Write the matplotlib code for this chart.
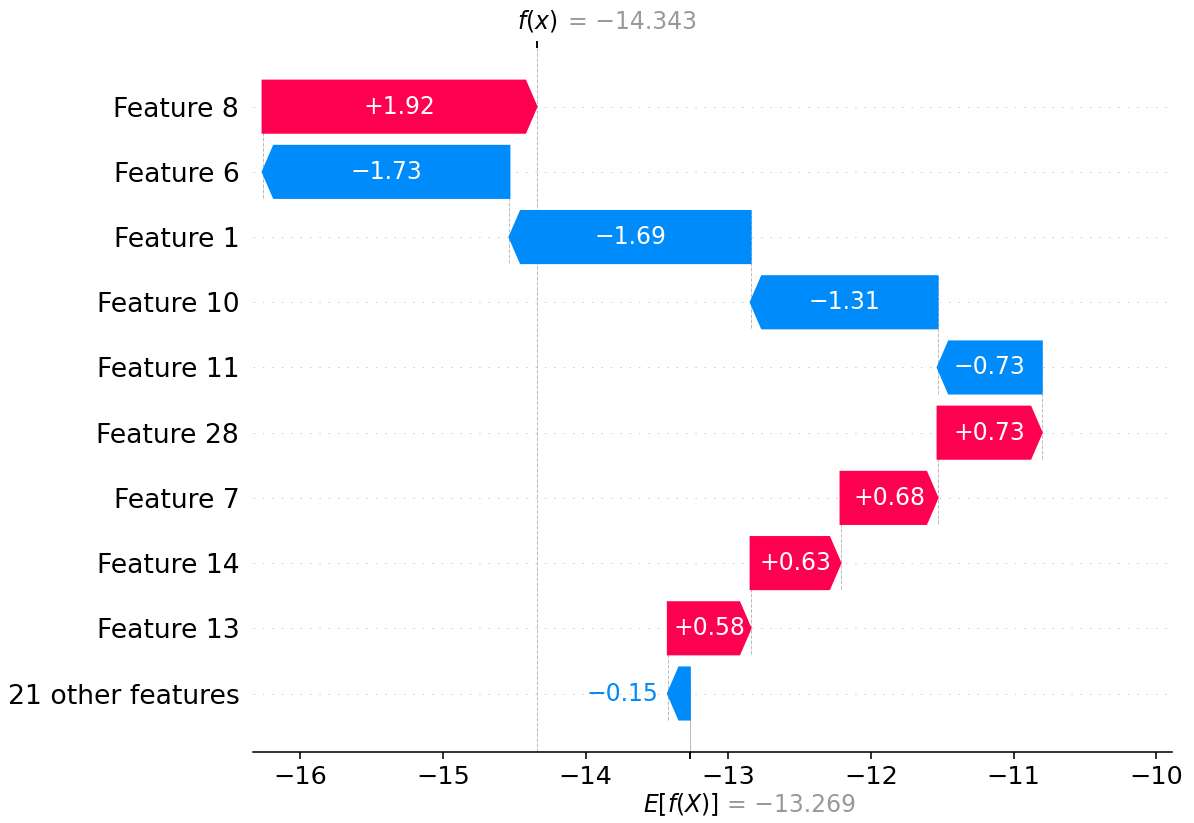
import numpy as np
import matplotlib
matplotlib.use("Agg")
from matplotlib import pyplot as plt
from matplotlib.transforms import ScaledTranslation

# data (top row first)
features = ["Feature 8", "Feature 6", "Feature 1", "Feature 10", "Feature 11",
            "Feature 28", "Feature 7", "Feature 14", "Feature 13", "21 other features"]
shap_values = [1.92, -1.73, -1.69, -1.31, -0.73, 0.73, 0.68, 0.63, 0.58, -0.154]
base_value = -13.269
x_ticks = [-16, -15, -14, -13, -12, -11, -10]

RED = (1.0, 0.0, 0.31796)
BLUE = (0.0, 0.5436, 0.9834)


def fmt(v, spec):
    return (spec % v).replace("-", "\u2212")


if __name__ == "__main__":
    dpi = 141
    fig = plt.figure(figsize=(1194 / dpi, 823 / dpi), dpi=dpi)
    ax = fig.add_axes([0.2119, 0.0866, 0.7697, 0.8551])
    xlim = (-16.33, -9.89)
    ax.set_xlim(*xlim)
    ax.set_ylim(-0.893, 9.9)

    n = len(features)
    rows = np.arange(n)[::-1]
    fx = base_value + sum(shap_values)

    # arrow head length: 0.08 inch in data units
    ax_w_in = ax.get_window_extent().width / dpi
    hl = 0.08 * (xlim[1] - xlim[0]) / ax_w_in
    px_per_unit = ax.transData.transform((1, 0))[0] - ax.transData.transform((0, 0))[0]
    pad = 5 / 72 * (xlim[1] - xlim[0]) / ax_w_in
    renderer = fig.canvas.get_renderer()

    loc = fx
    for i, val in enumerate(shap_values):
        y = rows[i]
        loc -= val
        color = RED if val > 0 else BLUE
        head = min(abs(val), hl)
        body = np.sign(val) * max(abs(val) - hl, 1e-6)
        ax.arrow(loc, y, body, 0, head_length=head, width=0.8, head_width=0.8,
                 color=color)

        ax.plot([loc, loc], [y - 1.4, y + 0.4], color="#bbbbbb", linestyle="--",
                linewidth=0.5, zorder=-1)

        txt = ax.text(loc + val / 2, y, fmt(val, "%+0.02f"), ha="center",
                      va="center", color="white", fontsize=12)
        if txt.get_window_extent(renderer).width > abs(val) * px_per_unit:
            txt.remove()
            if val > 0:
                ax.text(loc + val + pad, y, fmt(val, "%+0.02f"), ha="left",
                        va="center", color=RED, fontsize=12)
            else:
                ax.text(loc + val - pad, y, fmt(val, "%+0.02f"), ha="right",
                        va="center", color=BLUE, fontsize=12)

    for r in rows:
        ax.axhline(r, color="#cccccc", lw=0.5, dashes=(1.6, 8), zorder=-1)

    ax.axvline(base_value, 0, 1 / n, color="#bbbbbb", linestyle="--", linewidth=0.5, zorder=-1)
    ax.axvline(fx, 0, 1, color="#bbbbbb", linestyle="--", linewidth=0.5, zorder=-1)

    ax.set_yticks(rows)
    ax.set_yticklabels(features)
    ax.set_xticks(x_ticks)
    ax.xaxis.set_ticks_position("bottom")
    ax.yaxis.set_ticks_position("none")
    for side in ["right", "top", "left"]:
        ax.spines[side].set_visible(False)
    ax.tick_params(axis="x", labelsize=13)
    ax.tick_params(axis="y", labelsize=13.6)

    # E[f(X)] mark on the bottom
    ax2 = ax.twiny()
    ax2.set_xlim(*xlim)
    ax2.xaxis.set_ticks_position("bottom")
    ax2.set_xticks([base_value, base_value + 1e-8])
    ax2.set_xticklabels(["$E[f(X)]$", "= " + fmt(base_value, "%0.03f")],
                        fontsize=12, ha="left")
    for s in ax2.spines.values():
        s.set_visible(False)

    # f(x) mark on the top
    ax3 = ax2.twiny()
    ax3.set_xlim(*xlim)
    ax3.set_xticks([fx, fx + 1e-8])
    ax3.set_xticklabels(["$f(x)$", "= " + fmt(fx, "%0.03f")], fontsize=12, ha="left")
    for s in ax3.spines.values():
        s.set_visible(False)

    labels = ax3.xaxis.get_majorticklabels()
    labels[0].set_transform(labels[0].get_transform()
                            + ScaledTranslation(-10 / 72., 0, fig.dpi_scale_trans))
    labels[1].set_transform(labels[1].get_transform()
                            + ScaledTranslation(16 / 72., 0, fig.dpi_scale_trans))
    labels[1].set_color("#999999")

    labels = ax2.xaxis.get_majorticklabels()
    labels[0].set_transform(labels[0].get_transform()
                            + ScaledTranslation(-24 / 72., -13 / 72., fig.dpi_scale_trans))
    labels[1].set_transform(labels[1].get_transform()
                            + ScaledTranslation(19 / 72., -14 / 72., fig.dpi_scale_trans))
    labels[1].set_color("#999999")

    fig.savefig("out.png", dpi=dpi)
